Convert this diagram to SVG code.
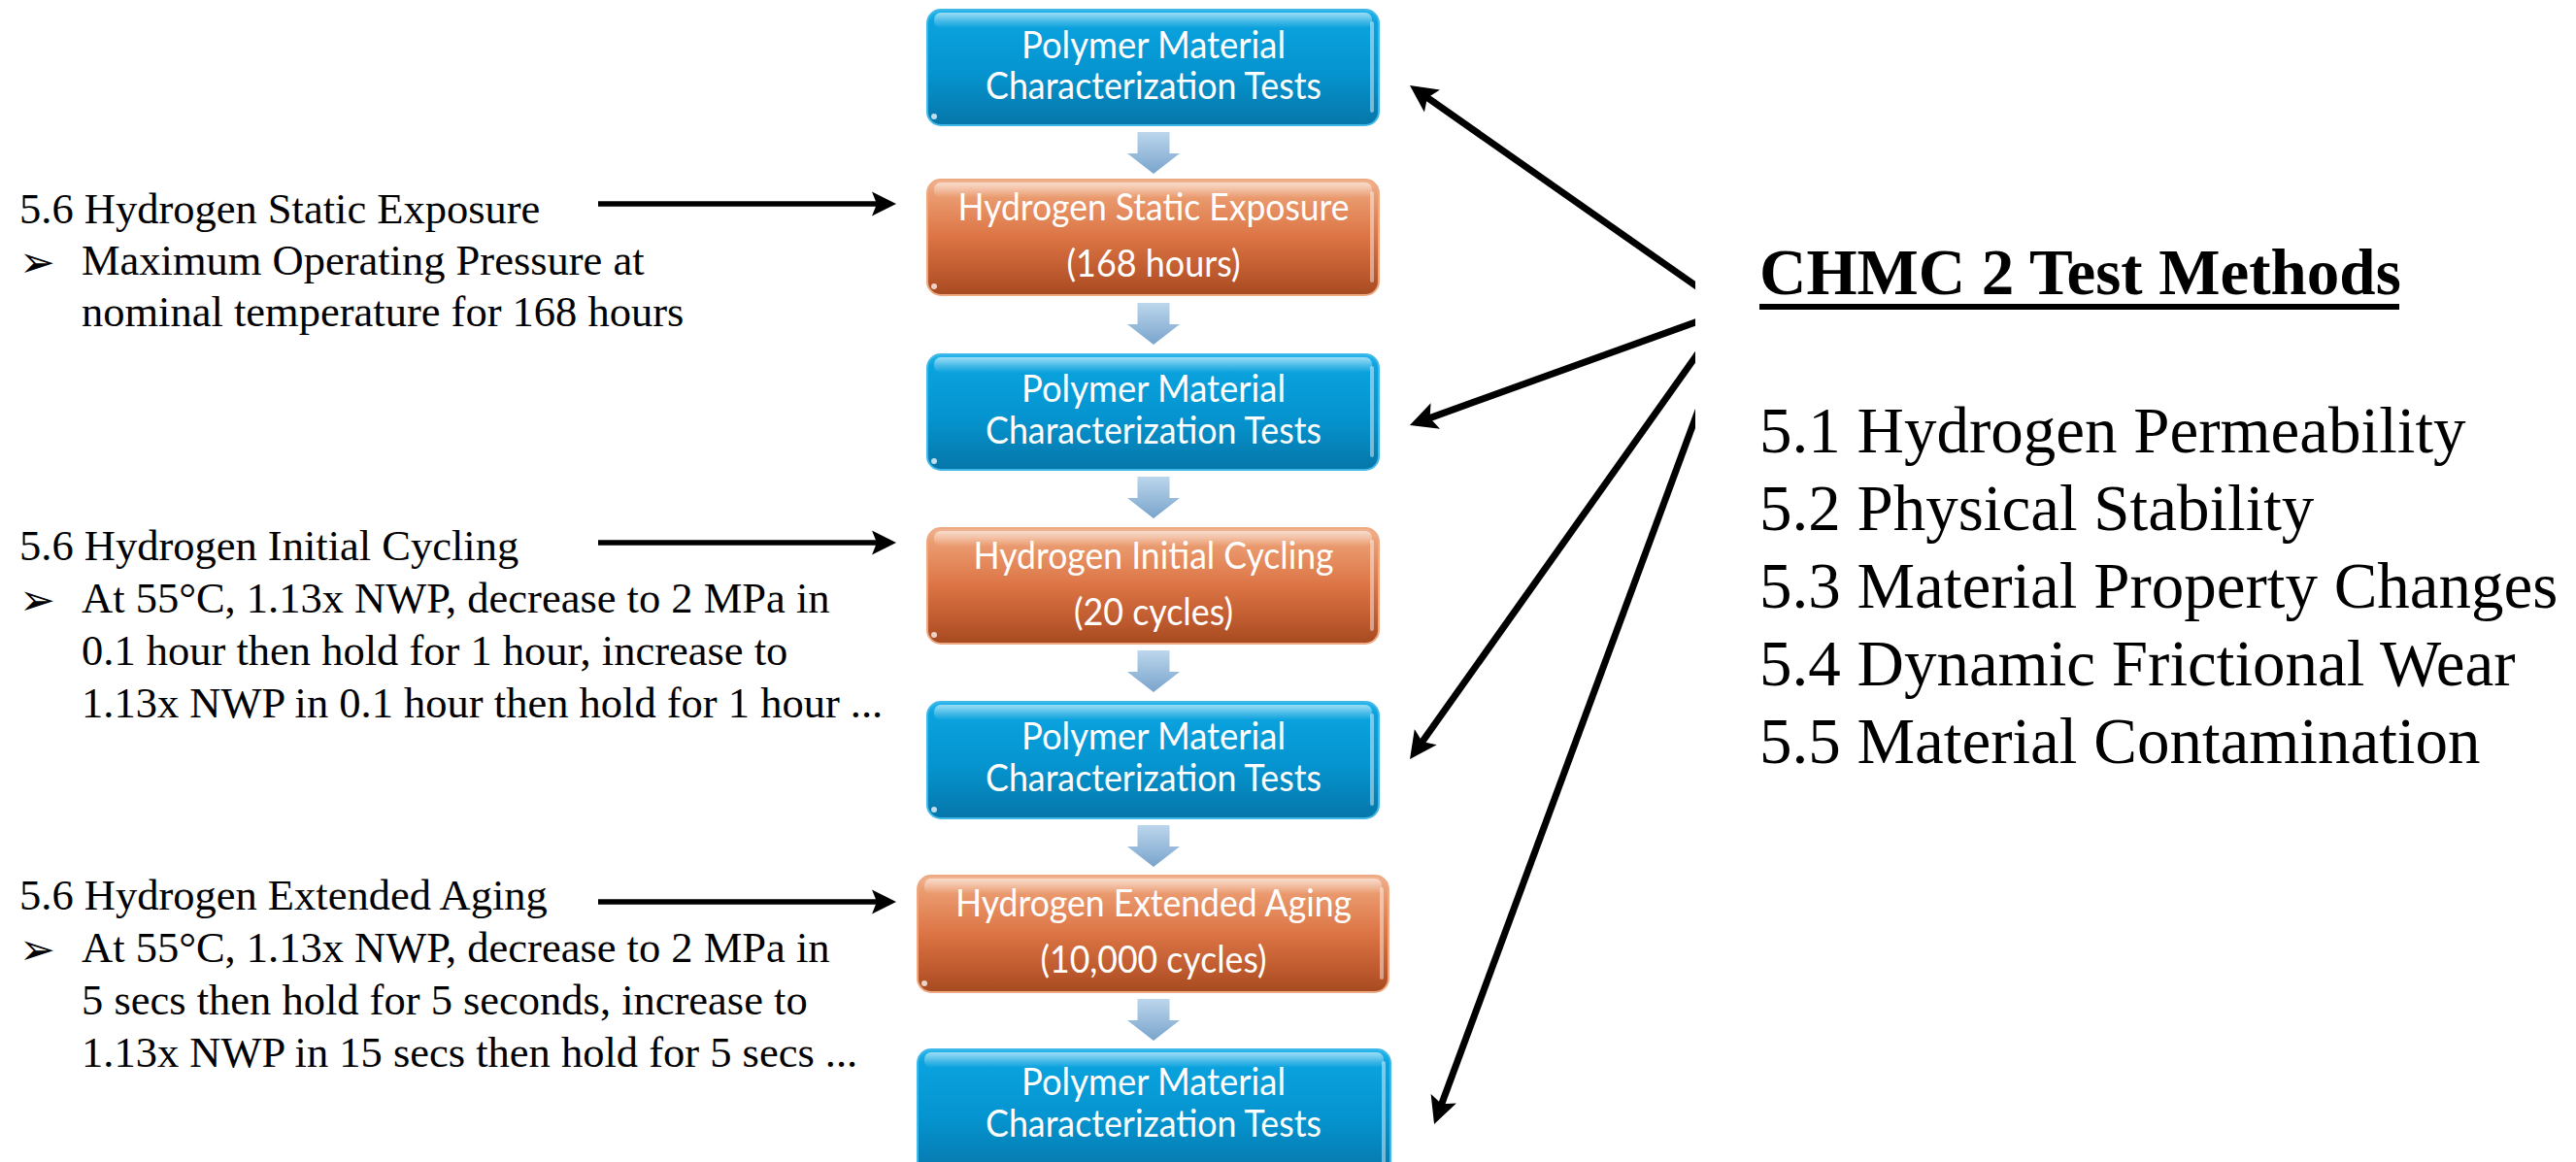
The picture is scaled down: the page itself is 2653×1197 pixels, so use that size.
<svg xmlns="http://www.w3.org/2000/svg" xmlns:xlink="http://www.w3.org/1999/xlink" width="2653" height="1197" viewBox="0 0 2653 1197">
<style>
.bt{fill:#ffffff;font-family:Lato,"Open Sans","Liberation Sans",sans-serif;font-size:38px;text-anchor:middle;}
.lt{fill:#000000;font-family:"Liberation Serif","Times New Roman",serif;font-size:44.5px;}
.bul{fill:#000000;font-family:"DejaVu Sans",sans-serif;font-size:44px;}
.rt{fill:#000000;font-family:"Liberation Serif","Times New Roman",serif;font-size:67px;}
.rh{fill:#000000;font-family:"Liberation Serif","Times New Roman",serif;font-size:67px;font-weight:bold;}
.blue{fill:url(#gBlue);stroke:#3fb8e8;stroke-width:2;}
.orange{fill:url(#gOrange);stroke:#eda982;stroke-width:2;}
.gloss{fill:url(#gGloss);}
.redge{fill:#ffffff;opacity:0.45;}
.dot{fill:#ffffff;opacity:0.75;}
.lconn{stroke:#000000;stroke-width:5.5;fill:none;marker-end:url(#headL);}
.rconn{stroke:#000000;stroke-width:7;fill:none;marker-end:url(#headR);}
</style>
<defs>
<linearGradient id="gBlue" x1="0" y1="0" x2="0" y2="1">
<stop offset="0" stop-color="#27b6ec"/>
<stop offset="0.1" stop-color="#0aa3df"/>
<stop offset="0.55" stop-color="#0594cf"/>
<stop offset="1" stop-color="#0676a9"/>
</linearGradient>
<linearGradient id="gOrange" x1="0" y1="0" x2="0" y2="1">
<stop offset="0" stop-color="#f2b594"/>
<stop offset="0.12" stop-color="#eb9d72"/>
<stop offset="0.5" stop-color="#dc7444"/>
<stop offset="0.85" stop-color="#b9562b"/>
<stop offset="1" stop-color="#a64a20"/>
</linearGradient>
<linearGradient id="gGloss" x1="0" y1="0" x2="0" y2="1">
<stop offset="0" stop-color="#ffffff" stop-opacity="0.55"/>
<stop offset="1" stop-color="#ffffff" stop-opacity="0"/>
</linearGradient>
<linearGradient id="gArrow" x1="0" y1="0" x2="0" y2="1">
<stop offset="0" stop-color="#bcd6ec"/>
<stop offset="1" stop-color="#79a4cc"/>
</linearGradient>
<path id="blockArrow" d="M-16.5,0 L16.5,0 L16.5,22 L27,22 L0,43 L-27,22 L-16.5,22 Z" fill="url(#gArrow)"/>
<marker id="headL" markerUnits="userSpaceOnUse" markerWidth="26" markerHeight="26" refX="12" refY="12.5" orient="auto" viewBox="0 0 26 25">
<path d="M0,0 L25,12.5 L0,25 L5,12.5 Z" fill="#000000"/>
</marker>
<marker id="headR" markerUnits="userSpaceOnUse" markerWidth="30" markerHeight="30" refX="12" refY="14" orient="auto" viewBox="0 0 30 28">
<path d="M0,0 L28,14 L0,28 L6,14 Z" fill="#000000"/>
</marker>
<clipPath id="rclip"><rect x="0" y="0" width="1746" height="1197"/></clipPath>
</defs>
<rect x="0" y="0" width="2653" height="1197" fill="#ffffff"/>

<g id="n1">
<rect class="blue" x="955" y="10" width="465" height="119" rx="14"/>
<rect class="gloss" x="962" y="13" width="451" height="16" rx="7"/>
<rect class="redge" x="1411" y="22" width="4" height="94" rx="2"/>
<circle class="dot" cx="962" cy="120" r="3"/>
<text class="bt" x="1188" y="60" textLength="272" lengthAdjust="spacingAndGlyphs">Polymer Material</text>
<text class="bt" x="1188" y="102" textLength="346" lengthAdjust="spacingAndGlyphs">Characterization Tests</text>
</g>

<g id="n2">
<rect class="orange" x="955" y="185" width="465" height="119" rx="14"/>
<rect class="gloss" x="962" y="188" width="451" height="16" rx="7"/>
<rect class="redge" x="1411" y="197" width="4" height="94" rx="2"/>
<circle class="dot" cx="962" cy="295" r="3"/>
<text class="bt" x="1188" y="227" textLength="403" lengthAdjust="spacingAndGlyphs">Hydrogen Static Exposure</text>
<text class="bt" x="1188" y="285" textLength="179" lengthAdjust="spacingAndGlyphs">(168 hours)</text>
</g>

<g id="n3">
<rect class="blue" x="955" y="365" width="465" height="119" rx="14"/>
<rect class="gloss" x="962" y="368" width="451" height="16" rx="7"/>
<rect class="redge" x="1411" y="377" width="4" height="94" rx="2"/>
<circle class="dot" cx="962" cy="475" r="3"/>
<text class="bt" x="1188" y="414" textLength="272" lengthAdjust="spacingAndGlyphs">Polymer Material</text>
<text class="bt" x="1188" y="457" textLength="346" lengthAdjust="spacingAndGlyphs">Characterization Tests</text>
</g>

<g id="n4">
<rect class="orange" x="955" y="544" width="465" height="119" rx="14"/>
<rect class="gloss" x="962" y="547" width="451" height="16" rx="7"/>
<rect class="redge" x="1411" y="556" width="4" height="94" rx="2"/>
<circle class="dot" cx="962" cy="654" r="3"/>
<text class="bt" x="1188" y="586" textLength="371" lengthAdjust="spacingAndGlyphs">Hydrogen Initial Cycling</text>
<text class="bt" x="1188" y="644" textLength="164" lengthAdjust="spacingAndGlyphs">(20 cycles)</text>
</g>

<g id="n5">
<rect class="blue" x="955" y="723" width="465" height="120" rx="14"/>
<rect class="gloss" x="962" y="726" width="451" height="16" rx="7"/>
<rect class="redge" x="1411" y="735" width="4" height="95" rx="2"/>
<circle class="dot" cx="962" cy="834" r="3"/>
<text class="bt" x="1188" y="772" textLength="272" lengthAdjust="spacingAndGlyphs">Polymer Material</text>
<text class="bt" x="1188" y="815" textLength="346" lengthAdjust="spacingAndGlyphs">Characterization Tests</text>
</g>

<g id="n6">
<rect class="orange" x="945" y="902" width="485" height="120" rx="14"/>
<rect class="gloss" x="952" y="905" width="471" height="16" rx="7"/>
<rect class="redge" x="1421" y="914" width="4" height="95" rx="2"/>
<circle class="dot" cx="952" cy="1013" r="3"/>
<text class="bt" x="1188" y="944" textLength="408" lengthAdjust="spacingAndGlyphs">Hydrogen Extended Aging</text>
<text class="bt" x="1188" y="1002" textLength="233" lengthAdjust="spacingAndGlyphs">(10,000 cycles)</text>
</g>

<g id="n7">
<rect class="blue" x="945" y="1081" width="487" height="130" rx="14"/>
<rect class="gloss" x="952" y="1084" width="473" height="16" rx="7"/>
<rect class="redge" x="1423" y="1093" width="4" height="110" rx="2"/>
<text class="bt" x="1188" y="1128" textLength="272" lengthAdjust="spacingAndGlyphs">Polymer Material</text>
<text class="bt" x="1188" y="1171" textLength="346" lengthAdjust="spacingAndGlyphs">Characterization Tests</text>
</g>

<g id="t-static">
<text class="lt" x="20" y="230">5.6 Hydrogen Static Exposure</text>
<text class="bul" x="20" y="285">➢</text>
<text class="lt" x="84" y="283">Maximum Operating Pressure at</text>
<text class="lt" x="84" y="336">nominal temperature for 168 hours</text>
</g>

<g id="t-initial">
<text class="lt" x="20" y="577">5.6 Hydrogen Initial Cycling</text>
<text class="bul" x="20" y="633">➢</text>
<text class="lt" x="84" y="631">At 55°C, 1.13x NWP, decrease to 2 MPa in</text>
<text class="lt" x="84" y="685">0.1 hour then hold for 1 hour, increase to</text>
<text class="lt" x="84" y="739">1.13x NWP in 0.1 hour then hold for 1 hour ...</text>
</g>

<g id="t-extended">
<text class="lt" x="20" y="937">5.6 Hydrogen Extended Aging</text>
<text class="bul" x="20" y="993">➢</text>
<text class="lt" x="84" y="991">At 55°C, 1.13x NWP, decrease to 2 MPa in</text>
<text class="lt" x="84" y="1045">5 secs then hold for 5 seconds, increase to</text>
<text class="lt" x="84" y="1099">1.13x NWP in 15 secs then hold for 5 secs ...</text>
</g>

<g id="t-methods">
<text class="rh" x="1812" y="303">CHMC 2 Test Methods</text>
<rect x="1812" y="313" width="659" height="6" fill="#000000"/>
<text class="rt" x="1812" y="466">5.1 Hydrogen Permeability</text>
<text class="rt" x="1812" y="546">5.2 Physical Stability</text>
<text class="rt" x="1812" y="626">5.3 Material Property Changes</text>
<text class="rt" x="1812" y="706">5.4 Dynamic Frictional Wear</text>
<text class="rt" x="1812" y="786">5.5 Material Contamination</text>
</g>

<g id="connectors">
<use xlink:href="#blockArrow" href="#blockArrow" x="1188" y="136"/>
<use xlink:href="#blockArrow" href="#blockArrow" x="1188" y="312"/>
<use xlink:href="#blockArrow" href="#blockArrow" x="1188" y="491"/>
<use xlink:href="#blockArrow" href="#blockArrow" x="1188" y="670"/>
<use xlink:href="#blockArrow" href="#blockArrow" x="1188" y="850"/>
<use xlink:href="#blockArrow" href="#blockArrow" x="1188" y="1029"/>
<line class="lconn" x1="616" y1="210" x2="910" y2="210"/>
<line class="lconn" x1="616" y1="559" x2="910" y2="559"/>
<line class="lconn" x1="616" y1="929" x2="910" y2="929"/>
<g clip-path="url(#rclip)">
<line class="rconn" x1="1750" y1="296.9" x2="1465.1" y2="97.2"/>
<line class="rconn" x1="1750" y1="330.5" x2="1467.0" y2="432.6"/>
<line class="rconn" x1="1750" y1="362.1" x2="1461.3" y2="769.0"/>
<line class="rconn" x1="1750" y1="420.1" x2="1482.6" y2="1143.0"/>
</g>
</g>
</svg>
